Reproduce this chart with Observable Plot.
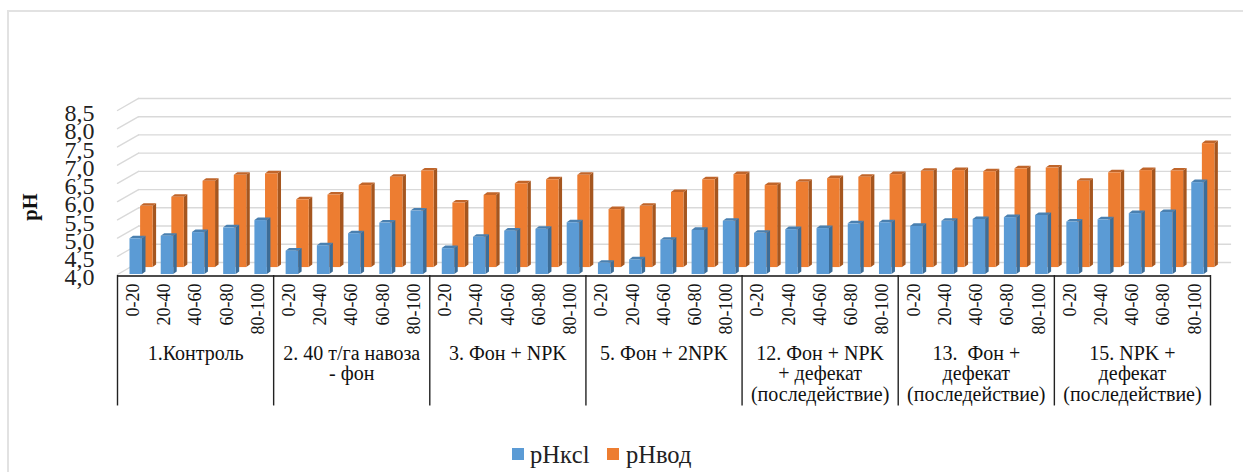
<!DOCTYPE html>
<html><head><meta charset="utf-8">
<script src="https://cdn.jsdelivr.net/npm/d3@7"></script>
<script src="https://cdn.jsdelivr.net/npm/@observablehq/plot@0.6"></script>
<style>
html,body{margin:0;padding:0;background:#fff;width:1243px;height:472px;overflow:hidden}
#frame{position:absolute;left:7px;top:10px;right:0;bottom:0;border-left:2px solid #e2e2e2;border-top:2px solid #e2e2e2}
#chart{position:absolute;left:0;top:0}
#legend{position:absolute;left:0;top:435px;height:37px;width:1243px;font:24.5px "Liberation Serif",serif;color:#222}
#legend span{position:absolute;top:5px;line-height:30px}
#legend i{position:absolute;top:13px;width:12px;height:12px}
</style></head><body>
<div id="frame"></div><div id="chart"></div>
<div id="legend">
<i style="left:512px;background:#5b9bd5"></i><span style="left:530px">pHкcl</span>
<i style="left:607px;background:#ed7d31"></i><span style="left:626px">pHвод</span>
</div>
<script>
const depths = ["0-20","20-40","40-60","60-80","80-100"];
const groups = ["1.Контроль","2. 40 т/га навоза\n- фон","3. Фон + NPK","5. Фон + 2NPK",
  "12. Фон + NPK\n+ дефекат\n(последействие)","13.  Фон +\nдефекат\n(последействие)","15. NPK +\nдефекат\n(последействие)"];
const pHkcl = [4.98,5.05,5.15,5.28,5.48, 4.64,4.79,5.12,5.41,5.74, 4.71,5.02,5.19,5.24,5.42,
  4.31,4.40,4.94,5.21,5.46, 5.13,5.23,5.26,5.39,5.42, 5.32,5.46,5.51,5.56,5.62, 5.44,5.50,5.67,5.70,6.52];
const pHvod = [5.68,5.93,6.37,6.53,6.57, 5.86,5.99,6.25,6.48,6.65, 5.77,5.98,6.30,6.41,6.53,
  5.59,5.68,6.06,6.41,6.55, 6.25,6.34,6.44,6.48,6.55, 6.64,6.66,6.63,6.71,6.73, 6.37,6.60,6.66,6.65,7.40];
const yTicks = [4,4.5,5,5.5,6,6.5,7,7.5,8,8.5];

const FONT = "Liberation Serif";
const barW = 0.4, sideX = 0.112, sideY = 0.07;   // depth of a bar in scale units
const wallX = 0.675, wallY = 0.33;               // depth of the back wall
const midY = 0.19;                               // floor lift of the rear row
const axisFoot = 0.42;                           // bottom of the group dividers

const n = pHkcl.length;
const cells = d3.range(n);
const makeBars = (vals, off, lift) => vals.map((v,i)=>({id:i,x1:i+off,x2:i+off+barW,y1:4+lift,y2:v+lift}));
const blue = makeBars(pHkcl, 0.4, 0), orange = makeBars(pHvod, 0.74, midY);
const side = bars => bars.flatMap(b=>[
  {id:b.id,x:b.x2,y1:b.y1,y2:b.y2},
  {id:b.id,x:b.x2+sideX,y1:b.y1+sideY,y2:b.y2+sideY}]);
const cap = bars => bars.flatMap(b=>[
  {id:b.id,x:b.x1,y1:b.y2,y2:b.y2},
  {id:b.id,x:b.x1+sideX,y1:b.y2,y2:b.y2+sideY},
  {id:b.id,x:b.x2,y1:b.y2,y2:b.y2+sideY},
  {id:b.id,x:b.x2+sideX,y1:b.y2+sideY,y2:b.y2+sideY}]);
const barMarks = (bars, front, sideCol, capCol) => [
  Plot.area(side(bars),{x1:"x",y1:"y1",y2:"y2",z:"id",fill:sideCol}),
  Plot.area(cap(bars),{x1:"x",y1:"y1",y2:"y2",z:"id",fill:capCol}),
  Plot.rect(bars,{x1:"x1",x2:"x2",y1:"y1",y2:"y2",fill:front})
];
const diag = yTicks.flatMap(v=>[{v,x:0,y:v},{v,x:wallX,y:v+wallY}]);

const chart = Plot.plot({
  width:1243, height:435,
  marginLeft:0,marginRight:0,marginTop:0,marginBottom:0,
  style:{background:"transparent",fontFamily:FONT,color:"#111"},
  x:{type:"linear",domain:[0,35],range:[117,1210],axis:null},
  y:{type:"linear",domain:[4,8.5],range:[274,110],axis:null},
  marks:[
    Plot.line(diag,{x:"x",y:"y",z:"v",stroke:"#d9d9d9",strokeWidth:1.4}),
    Plot.ruleY(yTicks,{y:d=>d+wallY,x1:wallX,x2:35+wallX,stroke:"#d9d9d9",strokeWidth:1.4}),
    ...barMarks(orange,"#ed7d31","#a5561f","#c0652a"),
    ...barMarks(blue,"#5b9bd5","#3c6d98","#4a80b0"),
    Plot.ruleY([4],{x1:0,x2:35,dy:1.5,stroke:"#111",strokeWidth:1.5}),
    Plot.ruleX(d3.range(0,36,5),{x:d=>d,y1:4,y2:axisFoot,dy:1,stroke:"#222",strokeWidth:1.4}),
    Plot.axisY(yTicks,{anchor:"left",x:0,tickSize:0,tickPadding:23,fontSize:24,dy:3,label:null,fontFamily:FONT,
      tickFormat:d=>d3.format(".1f")(d).replace(".",","),fill:"#222"}),
    Plot.text(["pH"],{x:-2.8,y:5.85,rotate:-90,fontSize:20.5,fontWeight:"bold",fontFamily:FONT,fill:"#111"}),
    Plot.text(cells,{x:i=>i+0.5,y:4,text:i=>depths[i%5],rotate:-90,textAnchor:"end",dy:9,fontSize:18,fontFamily:FONT,fill:"#111"}),
    Plot.text(groups,{x:(d,i)=>i*5+2.5,y:4,text:d=>d,dy:70.5,lineAnchor:"top",lineHeight:1.03,fontSize:20,fontFamily:FONT,fill:"#111"})
  ]
});
document.getElementById("chart").appendChild(chart);
</script>
</body></html>
